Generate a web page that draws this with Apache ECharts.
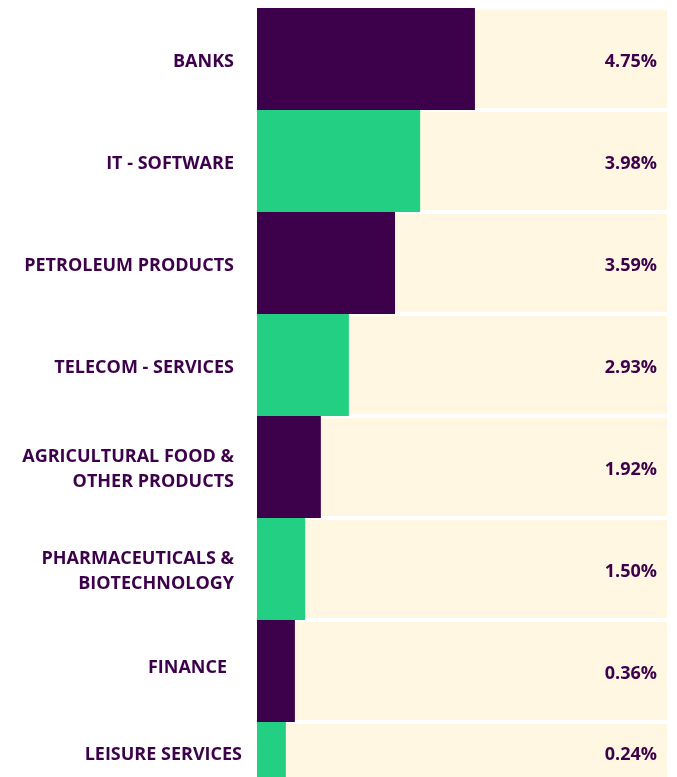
<!DOCTYPE html>
<html>
<head>
<meta charset="utf-8">
<script src="https://cdn.jsdelivr.net/npm/echarts@6/dist/echarts.min.js"></script>
<style>
  html, body { margin: 0; padding: 0; background: #ffffff; }
  #chart { width: 677px; height: 777px; }
</style>
</head>
<body>
<div id="chart"></div>
<script>
// Sector names (top to bottom)
const categories = [
  'BANKS',
  'IT - SOFTWARE',
  'PETROLEUM PRODUCTS',
  'TELECOM - SERVICES',
  'AGRICULTURAL FOOD &\nOTHER PRODUCTS',
  'PHARMACEUTICALS &\nBIOTECHNOLOGY',
  'FINANCE',
  'LEISURE SERVICES'
];
// Weight shown as text (% of net assets)
const weights = [4.75, 3.98, 3.59, 2.93, 1.92, 1.50, 0.36, 0.24];
// Bar length as drawn in the reference, in % of the full track
// (the reference does not scale the bars linearly with the weights)
const barLengths = [52.9, 39.6, 33.5, 22.3, 15.5, 11.7, 9.2, 7.0];
// Full track length (%)
const trackLengths = [100, 100, 100, 100, 100, 100, 100, 100];

const PURPLE = '#3d004b';
const GREEN = '#23d083';
const CREAM = '#fff7e2';
const FONT = '"Open Sans", sans-serif';
const FS = 18;

const chart = echarts.init(document.getElementById('chart'), null, { renderer: 'canvas' });

const lastIdx = categories.length - 1;

chart.setOption({
  animation: false,
  backgroundColor: '#ffffff',
  grid: { left: 257, top: 8, width: 412, height: 816, containLabel: false, outerBoundsMode: 'none' },
  xAxis: {
    type: 'value', min: 0, max: 100, show: false
  },
  yAxis: {
    type: 'category',
    inverse: true,
    data: categories,
    axisLine: { show: false },
    axisTick: { show: false },
    splitLine: { show: false },
    axisLabel: {
      margin: 15,
      align: 'right',
      color: PURPLE,
      fontFamily: FONT,
      fontWeight: 'bold',
      fontSize: FS,
      lineHeight: 25,
      formatter: function (v, i) {
        if (v === 'FINANCE') return '{f|' + v + '}';
        if (v === 'LEISURE SERVICES') return '{l|' + v + '}';
        return v.split('\n').map(function (s) { return '{n|' + s + '}'; }).join('\n');
      },
      rich: {
        n: { color: PURPLE, fontFamily: FONT, fontWeight: 'bold', fontSize: FS, lineHeight: 25, padding: [5, 8, 0, 0] },
        f: { color: PURPLE, fontFamily: FONT, fontWeight: 'bold', fontSize: FS, lineHeight: 25, padding: [3, 15, 9, 0] },
        l: { color: PURPLE, fontFamily: FONT, fontWeight: 'bold', fontSize: FS, lineHeight: 25, padding: [5, 0, 42, 0] }
      }
    }
  },
  series: [
    {
      name: 'track',
      type: 'bar',
      silent: true,
      barCategoryGap: '0%',
      barGap: '-100%',
      data: trackLengths.map(function (v, i) {
        return {
          value: v,
          label: { offset: i === lastIdx ? [0, -18] : [0, 3] }
        };
      }),
      itemStyle: { color: CREAM, borderColor: '#ffffff', borderWidth: 2 },
      label: {
        show: true,
        position: 'insideRight',
        distance: 12,
        color: PURPLE,
        fontFamily: FONT,
        fontWeight: 'bold',
        fontSize: FS,
        formatter: function (p) { return weights[p.dataIndex].toFixed(2) + '%'; }
      },
      z: 1
    },
    {
      name: 'weight',
      type: 'bar',
      silent: true,
      barCategoryGap: '0%',
      barGap: '-100%',
      data: barLengths.map(function (v, i) {
        return { value: v, itemStyle: { color: i % 2 === 0 ? PURPLE : GREEN } };
      }),
      z: 2
    }
  ]
});
</script>
</body>
</html>
